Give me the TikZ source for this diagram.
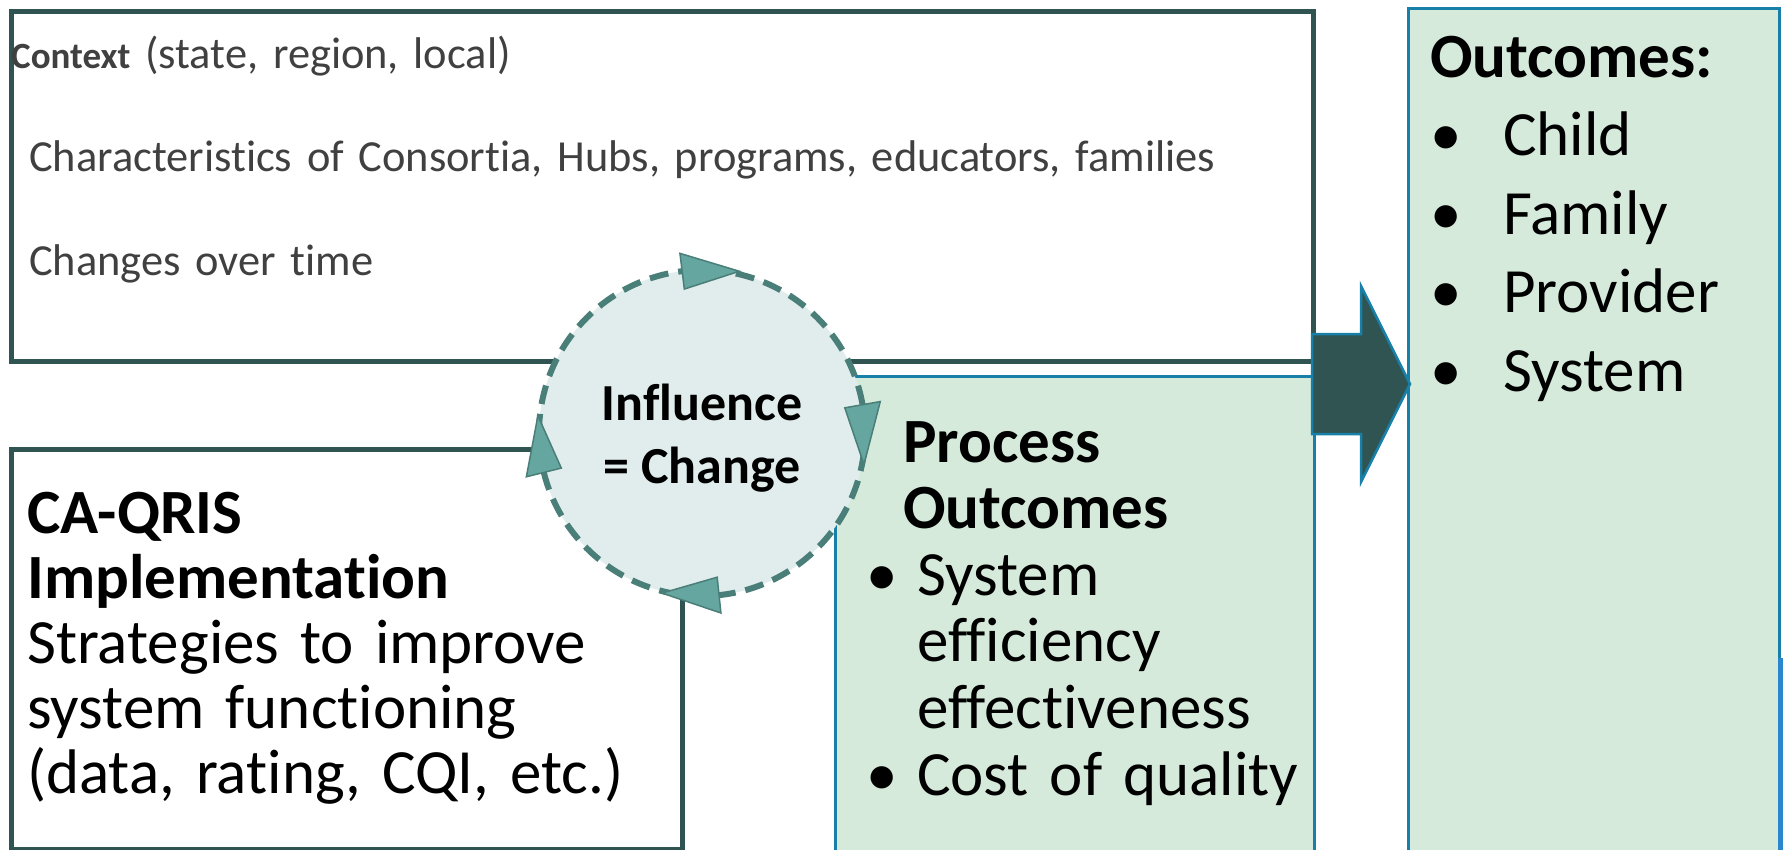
\documentclass[tikz,border=0pt]{standalone}
\usepackage{fontspec}
\setmainfont{Carlito}[Ligatures={NoCommon}]
\usetikzlibrary{calc}

\definecolor{slate}{RGB}{48,84,81}
\definecolor{ctxgray}{RGB}{64,64,64}
\definecolor{mint}{RGB}{213,234,219}
\definecolor{rimblue}{RGB}{24,128,168}
\definecolor{loopfill}{RGB}{225,237,237}
\definecolor{loopline}{RGB}{74,126,120}
\definecolor{headfill}{RGB}{101,166,160}
\definecolor{stripeblue}{RGB}{42,135,205}

\begin{document}
\begin{tikzpicture}[
        x=1pt, y=1pt,
        darkbox/.style={draw=slate, line width=5pt, fill=white, inner sep=0pt, anchor=north west},
        greenbox/.style={draw=rimblue, line width=2.5pt, fill=mint, inner sep=0pt, anchor=north west},
        boxtext/.style={inner sep=0pt, anchor=base west, align=left},
        loopring/.style={circle, draw=loopline, line width=6pt, dash pattern=on 19pt off 10pt,
            fill=loopfill, inner sep=0pt, minimum size=326pt},
        looplabel/.style={inner sep=0pt, align=center, font=\bfseries\fontsize{52}{63}\selectfont},
        loophead/.style={draw=loopline, line width=1.5pt, fill=headfill},
        bigarrow/.style={draw=rimblue, line width=2.5pt, fill=slate},
    ]
    \useasboundingbox (0,0) rectangle (1783,-849);
    \clip (0,0) rectangle (1783,-849);

    % boxes
    \node[darkbox, minimum width=1302pt, minimum height=350pt] (ctx) at (9,-9) {};
    \node[darkbox, minimum width=671pt, minimum height=400pt] (impl) at (9,-447) {};
    \node[greenbox, minimum width=479pt, minimum height=520pt] (proc) at (834,-375) {};
    \node[greenbox, minimum width=371pt, minimum height=900pt] (outc) at (1407,-7) {};
    \fill[stripeblue] (1778,-658) rectangle (1800,-900);

    % big arrow into the outcomes
    \coordinate (tip) at (1410,-384);
    \draw[bigarrow] (tip) -- ++(-49,98) -- ++(0,-48) -- ++(-49,0) -- ++(0,-100)
        -- ++(49,0) -- ++(0,-48) -- cycle;

    % influence loop
    \node[loopring] (loop) at (702,-433) {};
    \node[looplabel] (looptext) at ($(loop.center)+(0,-5)$) {Influence\\= Change};
    \draw[loophead] ($(loop.center)+(77:166)$) -- ($(loop.center)+(97:145)$) -- ($(loop.center)+(97:181)$) -- cycle;
    \draw[loophead] ($(loop.center)+(-11:165)$) -- ($(loop.center)+(10:145)$) -- ($(loop.center)+(10:181)$) -- cycle;
    \draw[loophead] ($(loop.center)+(-104:165)$) -- ($(loop.center)+(-84:145)$) -- ($(loop.center)+(-84:181)$) -- cycle;
    \draw[loophead] ($(loop.center)+(174:165)$) -- ($(loop.center)+(194:145)$) -- ($(loop.center)+(194:181)$) -- cycle;

    % texts
    \node[boxtext, text width=1250pt, text=ctxgray, font=\fontsize{44.4}{103.5}\selectfont] (ctxtext) at (11,-68)
        {{\bfseries\fontsize{37}{103.5}\selectfont Context} (state, region, local)\\
        \hspace*{18pt}Characteristics of Consortia, Hubs, programs, educators, families\\
        \hspace*{18pt}Changes over time};
    \node[boxtext, text width=640pt, font=\fontsize{63}{65}\selectfont] (impltext) at (27,-533)
        {\textbf{CA-QRIS}\\\textbf{Implementation}\\Strategies to improve\\system functioning\\(data, rating, CQI, etc.)};
    \node[boxtext, text width=470pt, font=\fontsize{63}{66.6}\selectfont] (proctext) at (866,-462)
        {\hspace*{37pt}\textbf{Process}\\\hspace*{37pt}\textbf{Outcomes}\\
        \makebox[51pt][l]{\textbullet}System\\\hspace*{51pt}efficiency\\\hspace*{51pt}effectiveness\\
        \makebox[51pt][l]{\textbullet}Cost of quality};
    \node[boxtext, text width=340pt, font=\fontsize{63}{78.5}\selectfont] (outctext) at (1430,-77)
        {\textbf{Outcomes:}\\\makebox[73pt][l]{\textbullet}Child\\\makebox[73pt][l]{\textbullet}Family\\
        \makebox[73pt][l]{\textbullet}Provider\\\makebox[73pt][l]{\textbullet}System};
\end{tikzpicture}
\end{document}
